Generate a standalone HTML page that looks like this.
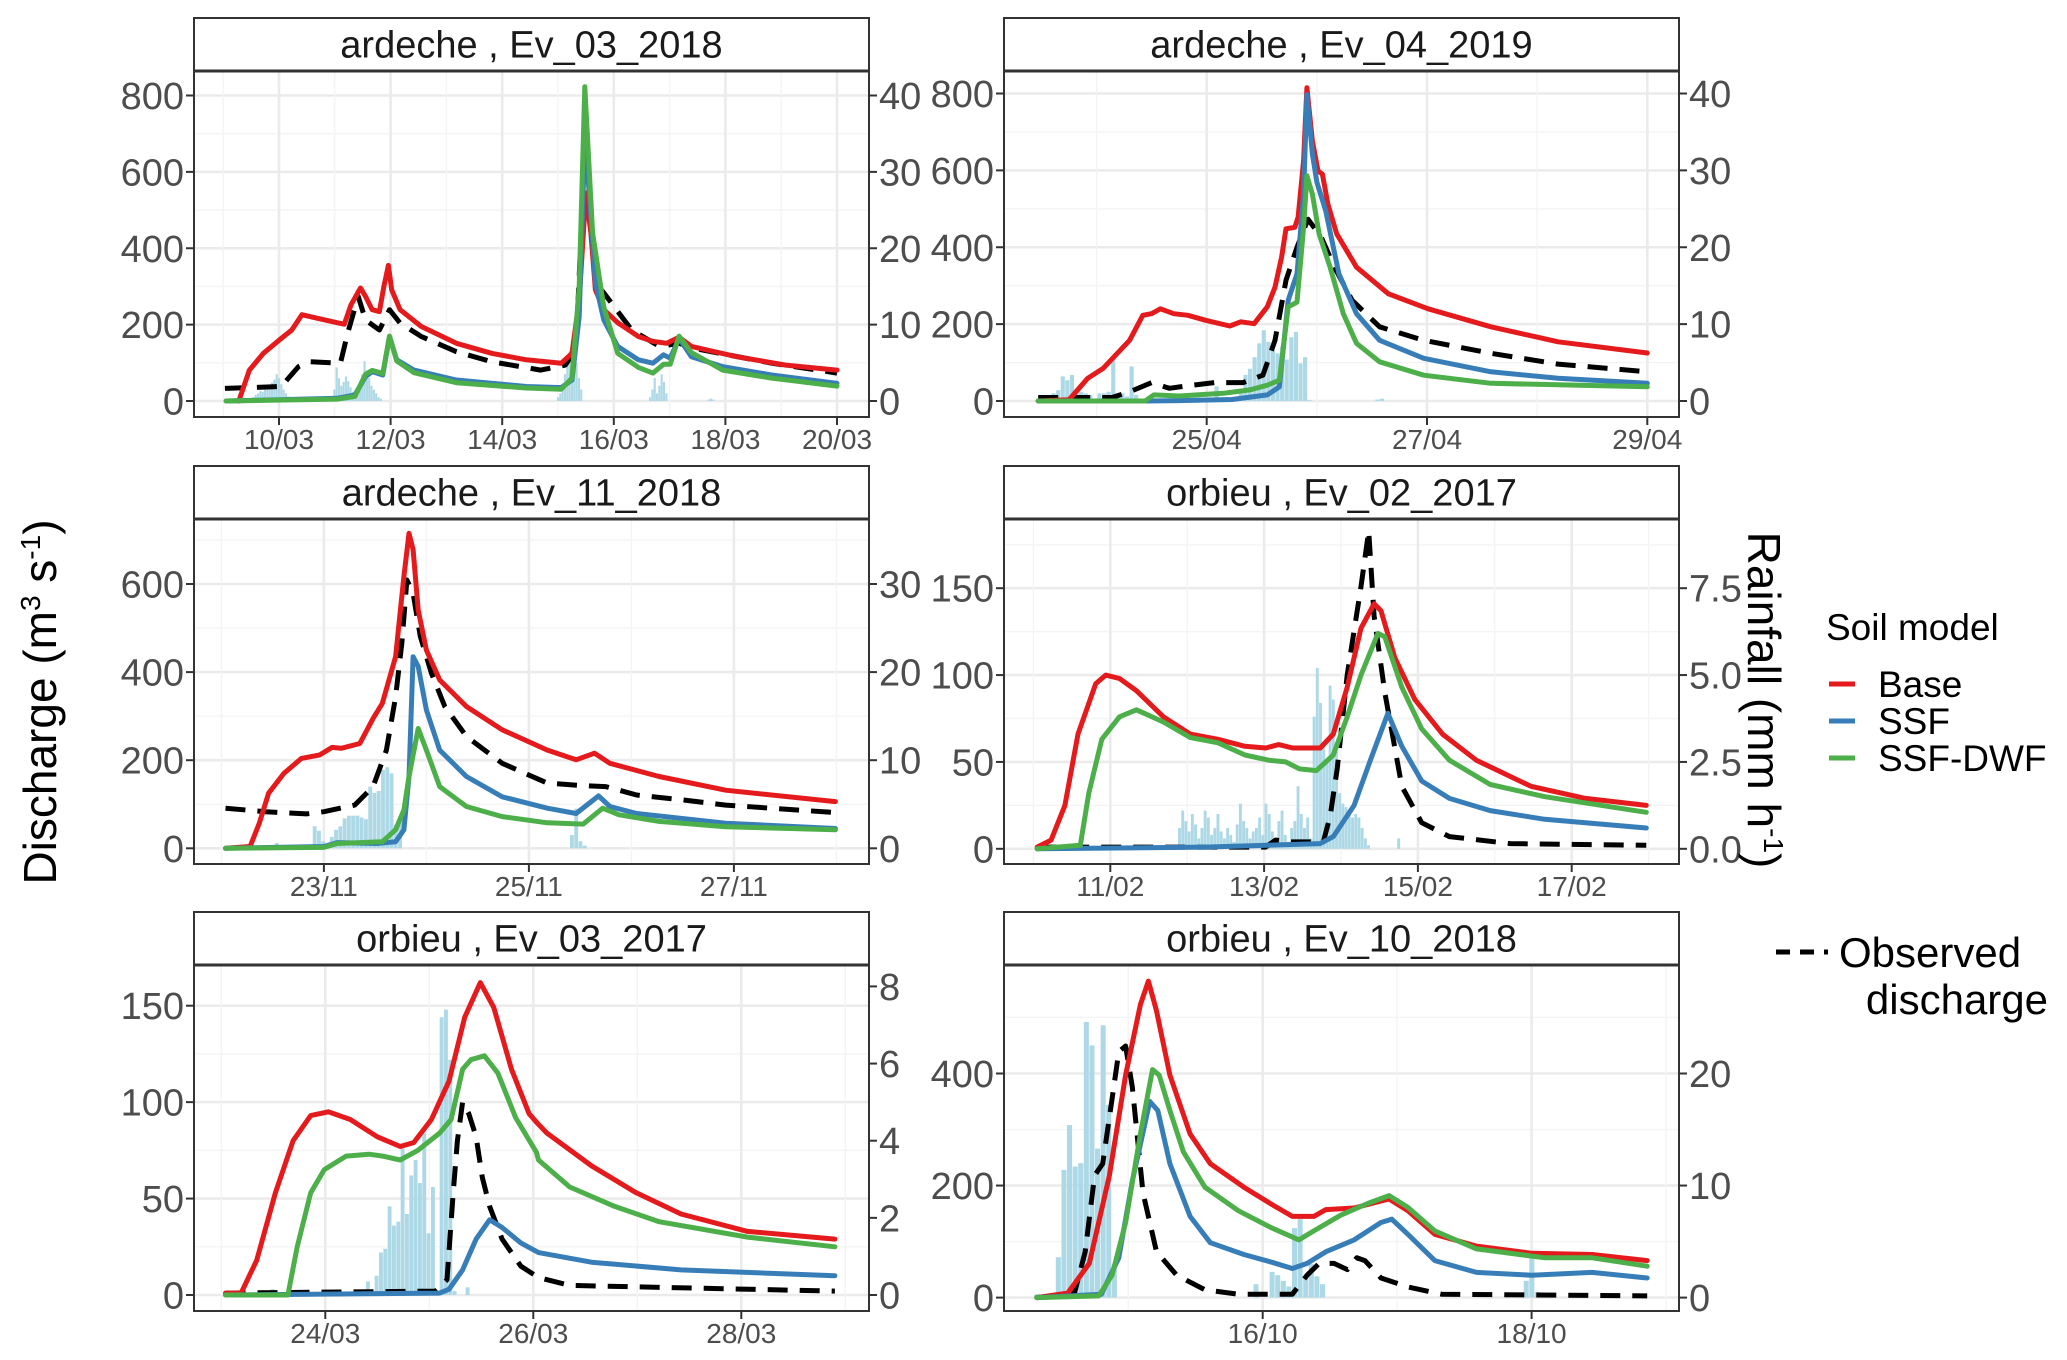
<!DOCTYPE html>
<html><head><meta charset="utf-8"><title>Discharge and rainfall events</title>
<style>
html,body{margin:0;padding:0;background:#fff;}
svg{display:block;font-family:"Liberation Sans",Arial,sans-serif;}
</style></head>
<body>
<svg id="chart" width="2067" height="1360" viewBox="0 0 2067 1360" xmlns="http://www.w3.org/2000/svg">
<rect x="0" y="0" width="2067" height="1360" fill="#fff"/>
<g id="panels"></g>
<text transform="translate(56,702) rotate(-90)" text-anchor="middle" font-size="46" fill="#000">Discharge (m<tspan font-size="28" dy="-16">3</tspan><tspan dy="16"> s</tspan><tspan font-size="28" dy="-16">-1</tspan><tspan dy="16">)</tspan></text>
<text transform="translate(1748,700) rotate(90)" text-anchor="middle" font-size="46" fill="#000">Rainfall (mm h<tspan font-size="28" dy="-16">-1</tspan><tspan dy="16">)</tspan></text>
<g>
<text x="1826" y="640" font-size="37" fill="#000">Soil model</text>
<line x1="1829" y1="684" x2="1855" y2="684" stroke="#e41a1c" stroke-width="5"/>
<text x="1878" y="697" font-size="37" fill="#000">Base</text>
<line x1="1829" y1="721" x2="1855" y2="721" stroke="#377eb8" stroke-width="5"/>
<text x="1878" y="734" font-size="37" fill="#000">SSF</text>
<line x1="1829" y1="758" x2="1855" y2="758" stroke="#4daf4a" stroke-width="5"/>
<text x="1878" y="771" font-size="37" fill="#000">SSF-DWF</text>
<line x1="1776" y1="952" x2="1828" y2="952" stroke="#000" stroke-width="5" stroke-dasharray="14 10"/>
<text x="1839" y="967" font-size="42" fill="#000">Observed</text>
<text x="2048" y="1014" font-size="42" fill="#000" text-anchor="end">discharge</text>
</g>
</svg>
<script>
// ---------- DATA ----------
// Panel 1: ardeche Ev_03_2018 (March)
const p1_title = "ardeche , Ev_03_2018";
const p1_xticks = [10,12,14,16,18,20];
const p1_xlabels = ["10/03","12/03","14/03","16/03","18/03","20/03"];
const p1_yticks = [0,200,400,600,800];
const p1_rticks = [0,10,20,30,40];
const p1_base = [[9.28,0],[9.47,81],[9.72,125],[10.04,164],[10.23,186],[10.41,226],[10.67,217],[11.04,205],[11.17,201],[11.29,252],[11.46,296],[11.55,274],[11.67,239],[11.8,234],[11.88,300],[11.96,355],[12.02,291],[12.17,239],[12.55,195],[13.18,151],[13.81,125],[14.43,108],[15.06,99],[15.25,125],[15.38,265],[15.5,545],[15.59,440],[15.67,291],[15.82,239],[16.07,205],[16.44,169],[16.7,156],[16.95,151],[17.17,167],[17.39,143],[18.2,116],[19.08,94],[20,81]];
const p1_ssf = [[9.05,0],[11.04,7],[11.36,16],[11.55,64],[11.67,77],[11.86,68],[11.98,169],[12.11,108],[12.42,81],[13.18,55],[14.43,38],[15.06,35],[15.25,55],[15.38,221],[15.48,685],[15.57,527],[15.67,309],[15.82,212],[16.07,143],[16.44,108],[16.7,99],[16.89,121],[17.01,112],[17.17,164],[17.39,116],[17.95,90],[18.83,68],[20,46]];
const p1_dwf = [[9.05,0],[11.04,5],[11.36,12],[11.55,70],[11.67,80],[11.86,72],[11.98,170],[12.11,105],[12.42,74],[13.18,48],[14.43,34],[15.06,31],[15.25,60],[15.38,300],[15.48,823],[15.62,440],[15.82,246],[16.07,125],[16.44,88],[16.7,73],[16.89,96],[17.01,96],[17.17,170],[17.39,127],[17.95,81],[18.83,60],[20,39]];
const p1_obs = [[9.03,33],[10.04,38],[10.35,90],[10.54,103],[11.1,99],[11.23,177],[11.42,274],[11.55,212],[11.8,186],[11.98,239],[12.17,204],[12.55,169],[13.18,129],[13.81,103],[14.69,81],[15.13,94],[15.32,134],[15.44,527],[15.54,562],[15.67,309],[15.82,283],[16.32,186],[16.82,143],[17.17,151],[17.57,134],[18.83,99],[20,73]];
const p1_rain = [[9.5,[0.3,0.5,0.8,1.0,1.3,1.2,1.6,2.0,1.8,2.4,2.8,3.5,3.0,2.2,1.5,1.0,0.6,0.3,0.2]],[10.95,[0.5,1.5,4.4,3.0,2.0,2.5,3.2,2.6,1.8,1.2,0.8,1.0,2.0,3.5,5.2,4.0,3.0,2.0,1.5,1.0,0.5,0.3]],[15.0,[0.5,1.0,2.0,3.5,5.0,6.5,8.0,7.0,5.0,3.0,1.5]],[16.65,[0.5,1.5,3.0,1.0,2.0,3.5,2.5,1.0]],[17.7,[0.2,0.3,0.2]]];

// Panel 2: ardeche Ev_04_2019 (April)
const p2_title = "ardeche , Ev_04_2019";
const p2_xticks = [25,27,29];
const p2_xlabels = ["25/04","27/04","29/04"];
const p2_yticks = [0,200,400,600,800];
const p2_rticks = [0,10,20,30,40];
const p2_base = [[23.47,0],[23.75,3],[23.92,59],[24.06,85],[24.3,158],[24.42,223],[24.5,227],[24.58,240],[24.7,227],[24.83,223],[24.99,210],[25.21,195],[25.31,206],[25.43,201],[25.55,245],[25.62,296],[25.68,374],[25.72,448],[25.8,452],[25.83,478],[25.88,625],[25.91,815],[25.96,676],[26.01,599],[26.05,590],[26.1,512],[26.18,435],[26.36,348],[26.65,279],[27.01,240],[27.58,193],[28.19,154],[29,125]];
const p2_ssf = [[23.47,0],[24.46,0],[24.75,1],[25.23,4],[25.55,16],[25.66,37],[25.74,262],[25.82,331],[25.88,538],[25.91,797],[25.96,642],[26.0,569],[26.08,495],[26.2,331],[26.36,227],[26.57,158],[26.97,111],[27.58,76],[28.19,59],[29,46]];
const p2_dwf = [[23.47,0],[24.44,0],[24.52,16],[24.75,13],[25.15,20],[25.39,29],[25.55,41],[25.66,54],[25.74,245],[25.82,257],[25.88,452],[25.91,586],[25.96,538],[26.02,435],[26.12,348],[26.24,227],[26.36,150],[26.57,102],[26.97,67],[27.58,46],[29,37]];
const p2_obs = [[23.47,9],[24.14,9],[24.3,24],[24.5,48],[24.66,33],[24.87,41],[25.07,48],[25.33,48],[25.51,67],[25.62,158],[25.72,314],[25.82,400],[25.92,473],[26.04,426],[26.16,348],[26.32,262],[26.57,193],[26.97,158],[27.58,124],[28.19,96],[29,76]];
const p2_rain = [[23.61,[1.0,1.4,3.2,2.7,3.4,1.0,1.2,1.0,0.8,0.3,1.0,1.0,1.2,5.5,1.0,1.0,0.6,4.5,0.8]],[25.09,[1.9]],[25.31,[1.6,3.4,4.2,5.7,7.5,9.2,7.7,6.6,6.2,7.1,5.4,8.3,9.0,4.9,5.7,0.1]],[26.55,[0.2,0.3]]];

// Panel 3: ardeche Ev_11_2018 (November)
const p3_title = "ardeche , Ev_11_2018";
const p3_xticks = [23,25,27];
const p3_xlabels = ["23/11","25/11","27/11"];
const p3_yticks = [0,200,400,600];
const p3_rticks = [0,10,20,30];
const p3_base = [[22.04,0],[22.28,4],[22.37,57],[22.46,125],[22.61,170],[22.78,204],[22.96,212],[23.08,229],[23.17,227],[23.35,238],[23.48,295],[23.57,329],[23.7,435],[23.78,617],[23.83,715],[23.87,678],[23.92,541],[24.0,450],[24.13,382],[24.39,322],[24.74,269],[25.18,223],[25.46,201],[25.64,216],[25.79,193],[26.27,163],[26.92,132],[27.99,106]];
const p3_ssf = [[22.04,0],[23.0,4],[23.13,13],[23.52,11],[23.7,15],[23.78,42],[23.83,163],[23.87,435],[23.92,413],[24.0,314],[24.13,223],[24.39,163],[24.74,117],[25.18,91],[25.46,79],[25.68,119],[25.79,95],[26.05,79],[26.92,57],[27.99,45]];
const p3_dwf = [[22.04,0],[23.0,2],[23.13,11],[23.57,15],[23.7,42],[23.78,87],[23.83,163],[23.92,272],[24.0,223],[24.13,140],[24.39,95],[24.74,72],[25.18,58],[25.53,55],[25.72,91],[25.88,76],[26.27,61],[26.92,49],[27.99,42]];
const p3_obs = [[22.04,91],[22.43,83],[22.83,78],[23.0,83],[23.3,98],[23.48,140],[23.61,223],[23.7,344],[23.76,465],[23.81,609],[23.87,579],[23.94,481],[24.05,397],[24.18,322],[24.39,254],[24.74,193],[25.18,148],[25.53,142],[25.75,140],[26.05,121],[26.49,110],[26.92,98],[27.99,81]];
const p3_rain = [[22.54,[0.6]],[22.91,[2.5,2.0,0.8,0.3,1.3,2.1,2.5,3.4,3.7,3.7,3.7,3.5,3.3,7.0,6.3,6.5,8.9,9.2,8.5,2.7,3.0]],[25.42,[1.5,4.5,0.8,0.3]]];

// Panel 4: orbieu Ev_02_2017 (February)
const p4_title = "orbieu , Ev_02_2017";
const p4_xticks = [11,13,15,17];
const p4_xlabels = ["11/02","13/02","15/02","17/02"];
const p4_yticks = [0,50,100,150];
const p4_rticks = [0,2.5,5,7.5];
const p4_rlabels = ["0.0","2.5","5.0","7.5"];
const p4_base = [[10.05,1],[10.23,5],[10.41,25],[10.58,66],[10.81,95],[10.94,100],[11.12,98],[11.34,91],[11.69,76],[12.04,66],[12.4,63],[12.75,59],[13.02,58],[13.19,60],[13.37,58],[13.73,58],[13.9,66],[14.08,93],[14.26,127],[14.43,141],[14.52,137],[14.7,110],[14.96,86],[15.32,66],[15.76,51],[16.47,36],[17.18,29],[17.97,25]];
const p4_ssf = [[10.05,0],[12.22,1],[13.73,3],[13.9,7],[14.17,25],[14.39,52],[14.61,78],[14.79,59],[15.05,39],[15.41,29],[15.94,22],[16.65,17],[17.97,12]];
const p4_dwf = [[10.05,0],[10.61,2],[10.72,32],[10.89,63],[11.12,76],[11.34,80],[11.69,73],[12.04,64],[12.4,61],[12.75,54],[13.06,51],[13.28,50],[13.46,46],[13.68,45],[13.9,54],[14.08,76],[14.26,100],[14.48,124],[14.57,122],[14.79,93],[15.05,69],[15.41,51],[15.94,37],[16.65,30],[17.97,21]];
const p4_obs = [[10.05,1],[13.02,1],[13.15,5],[13.37,4],[13.77,4],[13.86,19],[13.95,46],[14.08,100],[14.26,151],[14.36,183],[14.43,134],[14.57,90],[14.79,36],[15.05,15],[15.41,7],[16.2,3],[17.97,2]];
const p4_rain = [[11.9,[0.6,1.1,0.8,0.5,1.0,0.7,0.3,0.6,1.1,0.9,0.4,0.6,1.0,0.5,0.3,0.6,0.4,0.2,0.7,1.3,0.8,0.6,0.3,0.5,0.6,0.9,0.4,1.3,1.0,0.5,0.3,0.8,1.1,0.4,0.2,0.6,0.8,1.8,1.0,0.6,0.9,0.3,3.8,5.2,4.2,3.0,2.5,4.7,4.3,2.8,1.6,1.3,1.2,1.1,0.9,1.0,0.9,0.6,0.3,0.1]],[14.75,[0.3]]];

// Panel 5: orbieu Ev_03_2017 (March)
const p5_title = "orbieu , Ev_03_2017";
const p5_xticks = [24,26,28];
const p5_xlabels = ["24/03","26/03","28/03"];
const p5_yticks = [0,50,100,150];
const p5_rticks = [0,2,4,6,8];
const p5_base = [[23.04,1],[23.19,1],[23.34,18],[23.52,53],[23.69,80],[23.86,93],[24.03,95],[24.24,91],[24.5,82],[24.72,77],[24.85,79],[25.02,91],[25.19,111],[25.34,144],[25.49,162],[25.62,149],[25.79,117],[25.96,94],[26.04,89],[26.13,84],[26.56,67],[26.99,53],[27.42,42],[28.06,33],[28.9,29]];
const p5_ssf = [[23.04,0],[25.1,1],[25.19,3],[25.32,13],[25.45,29],[25.58,39],[25.7,35],[25.88,27],[26.05,22],[26.56,17],[27.42,13],[28.9,10]];
const p5_dwf = [[23.04,0],[23.64,0],[23.73,25],[23.86,53],[23.99,65],[24.2,72],[24.42,73],[24.55,72],[24.72,70],[24.89,75],[25.1,84],[25.21,91],[25.32,117],[25.4,122],[25.53,124],[25.66,115],[25.83,92],[26.03,74],[26.05,70],[26.35,56],[26.78,46],[27.21,38],[28.06,30],[28.9,25]];
const p5_obs = [[23.04,1],[25.06,2],[25.17,8],[25.23,53],[25.27,80],[25.32,100],[25.38,94],[25.45,82],[25.51,61],[25.58,46],[25.7,29],[25.88,15],[26.05,9],[26.35,5],[28.9,2]];
const p5_rain = [[23.41,[0.1,0,0.15]],[24.41,[0.35,0.1,0.5,1.1,1.2,2.3,1.8,1.9,3.8,2.1,3.1,3.5,2.9,4.2,1.6,2.8,0.1,7.2,7.4,6.1,0.1,0,0,0.2]]];

// Panel 6: orbieu Ev_10_2018 (October)
const p6_title = "orbieu , Ev_10_2018";
const p6_xticks = [16,18];
const p6_xlabels = ["16/10","18/10"];
const p6_yticks = [0,200,400];
const p6_rticks = [0,10,20];
const p6_base = [[14.32,0],[14.55,8],[14.71,61],[14.86,218],[14.98,397],[15.09,523],[15.15,565],[15.21,512],[15.31,397],[15.46,292],[15.61,239],[15.86,197],[16.07,166],[16.22,145],[16.38,145],[16.47,157],[16.68,160],[16.94,176],[17.08,155],[17.28,113],[17.59,92],[18.0,79],[18.45,77],[18.86,66]];
const p6_ssf = [[14.32,0],[14.8,6],[14.93,71],[15.03,208],[15.16,350],[15.22,334],[15.31,239],[15.46,145],[15.61,98],[15.86,77],[16.07,63],[16.22,52],[16.33,61],[16.47,82],[16.68,103],[16.88,134],[16.96,140],[17.08,113],[17.28,66],[17.59,45],[18.0,40],[18.45,45],[18.86,35]];
const p6_dwf = [[14.32,0],[14.78,3],[14.88,40],[14.98,134],[15.09,292],[15.18,407],[15.23,397],[15.31,334],[15.41,260],[15.57,197],[15.82,155],[16.07,124],[16.27,103],[16.38,119],[16.58,147],[16.78,168],[16.94,182],[17.08,161],[17.28,119],[17.59,87],[18.1,71],[18.45,71],[18.86,56]];
const p6_obs = [[14.32,0],[14.6,8],[14.68,82],[14.75,218],[14.81,239],[14.88,355],[14.93,439],[14.98,449],[15.03,376],[15.11,187],[15.21,82],[15.36,40],[15.57,14],[15.82,6],[16.22,6],[16.33,40],[16.42,61],[16.53,61],[16.63,50],[16.7,71],[16.76,66],[16.88,35],[17.08,19],[17.33,6],[18.86,3]];
const p6_rain = [[14.32,[0.3]],[14.48,[3.6,11.4,15.4,11.7,12.0,24.6,22.5,13.3,24.3,17.2,3.0]],[15.95,[1.2]],[16.07,[2.3,2.0,1.5,1.0,6.2,7.0,1.9,3.0,1.9,1.2]],[17.96,[1.5,3.5,0.5]]];

const rainScale = 20; // secondary axis: rainfall * 20 = discharge units

// ---------- LAYOUT ----------
const NS = "http://www.w3.org/2000/svg";
const root = document.getElementById('panels');
function mk(tag, attrs, parent){
  const e = document.createElementNS(NS, tag);
  for (const k in attrs) e.setAttribute(k, attrs[k]);
  (parent||root).appendChild(e);
  return e;
}
const C1 = [194, 869], C2 = [1004, 1679];
const R1 = [18, 71, 417], R2 = [466, 519, 864], R3 = [912, 965, 1311];
const panels = [
  {id:'p1', title:p1_title, col:C1, row:R1, d0:10, px0:279, pxd:55.8, y0:401, ys:(401-95.5)/800, xt:p1_xticks, xl:p1_xlabels, yt:p1_yticks, rt:p1_rticks, rl:null, s:[p1_base,p1_ssf,p1_dwf,p1_obs], rain:p1_rain},
  {id:'p2', title:p2_title, col:C2, row:R1, d0:25, px0:1206.7, pxd:110.15, y0:401, ys:(401-93.5)/800, xt:p2_xticks, xl:p2_xlabels, yt:p2_yticks, rt:p2_rticks, rl:null, s:[p2_base,p2_ssf,p2_dwf,p2_obs], rain:p2_rain},
  {id:'p3', title:p3_title, col:C1, row:R2, d0:23, px0:323.9, pxd:102.5, y0:848.3, ys:(848.3-584)/600, xt:p3_xticks, xl:p3_xlabels, yt:p3_yticks, rt:p3_rticks, rl:null, s:[p3_base,p3_ssf,p3_dwf,p3_obs], rain:p3_rain},
  {id:'p4', title:p4_title, col:C2, row:R2, d0:11, px0:1110.3, pxd:76.9, y0:848.8, ys:(848.8-588.2)/150, xt:p4_xticks, xl:p4_xlabels, yt:p4_yticks, rt:p4_rticks, rl:p4_rlabels, s:[p4_base,p4_ssf,p4_dwf,p4_obs], rain:p4_rain},
  {id:'p5', title:p5_title, col:C1, row:R3, d0:24, px0:325.3, pxd:104, y0:1295, ys:(1295-1005.7)/150, xt:p5_xticks, xl:p5_xlabels, yt:p5_yticks, rt:p5_rticks, rl:null, s:[p5_base,p5_ssf,p5_dwf,p5_obs], rain:p5_rain},
  {id:'p6', title:p6_title, col:C2, row:R3, d0:16, px0:1262.7, pxd:134.45, y0:1297.6, ys:(1297.6-1073.5)/400, xt:p6_xticks, xl:p6_xlabels, yt:p6_yticks, rt:p6_rticks, rl:null, s:[p6_base,p6_ssf,p6_dwf,p6_obs], rain:p6_rain}
];
const colors = ['#e41a1c','#377eb8','#4daf4a','#000'];
const snames = ['base','ssf','ssf-dwf','observed'];

panels.forEach(function(P, idx){
  const L = P.col[0], R = P.col[1], ST = P.row[0], T = P.row[1], B = P.row[2];
  const xS = function(d){ return P.px0 + (d - P.d0) * P.pxd; };
  const yS = function(v){ return P.y0 - v * P.ys; };
  const g = mk('g', {});
  
  
  const cp = mk('clipPath', {id:'clip'+idx}, g);
  mk('rect', {x:L, y:T, width:R-L, height:B-T}, cp);
  mk('rect', {x:L, y:T, width:R-L, height:B-T, fill:'#fff'}, g);
  const grid = mk('g', {'clip-path':'url(#clip'+idx+')'}, g);
  
  
  const stepY = P.yt[1] - P.yt[0];
  for (let v = P.yt[0] - stepY/2; v <= P.yt[P.yt.length-1] + stepY; v += stepY/2) {
    const y = yS(v);
    if (y < T || y > B) continue;
    const major = P.yt.some(function(t){ return Math.abs(t - v) < 1e-6; });
    mk('line', {x1:L, x2:R, y1:y, y2:y, stroke: major ? '#ebebeb' : '#f4f4f4', 'stroke-width': major ? 2.6 : 1.4}, grid);
  }
  const stepX = P.xt.length > 1 ? P.xt[1] - P.xt[0] : 2;
  for (let d = P.xt[0] - stepX*2; d <= P.xt[P.xt.length-1] + stepX*2; d += stepX/2) {
    const x = xS(d);
    if (x < L || x > R) continue;
    const major = P.xt.some(function(t){ return Math.abs(t - d) < 1e-6; });
    mk('line', {x1:x, x2:x, y1:T, y2:B, stroke: major ? '#ebebeb' : '#f4f4f4', 'stroke-width': major ? 2.6 : 1.4}, grid);
  }
  const rg = mk('g', {'clip-path':'url(#clip'+idx+')'}, g);
  
  
  const hw = P.pxd / 24;
  P.rain.forEach(function(cl){
    cl[1].forEach(function(r, i){
      if (r <= 0) return;
      const x = xS(cl[0] + i/24);
      const y = yS(r * rainScale);
      const b = mk('rect', {x:x - hw*0.45, y:y, width:Math.max(hw*0.9,1.2), height:yS(0)-y, fill:'#add8e6'}, rg);
      
      
    });
  });
  const lg = mk('g', {'clip-path':'url(#clip'+idx+')'}, g);
  [3,0,1,2].forEach(function(si){
    const ser = P.s[si];
    const d = ser.map(function(p,i){ return (i ? 'L' : 'M') + xS(p[0]).toFixed(1) + ',' + yS(p[1]).toFixed(1); }).join('');
    const attrs = {d:d, fill:'none', stroke:colors[si], 'stroke-width':5, 'stroke-linejoin':'round', 'stroke-linecap': si===3 ? 'butt' : 'round'};
    if (si === 3) attrs['stroke-dasharray'] = '20 12';
    const path = mk('path', attrs, lg);
    
    
  });
  mk('rect', {x:L, y:T, width:R-L, height:B-T, fill:'none', stroke:'#333', 'stroke-width':2}, g);
  const strip = mk('rect', {x:L, y:ST, width:R-L, height:T-ST, fill:'#fff', stroke:'#333', 'stroke-width':2}, g);
  
  
  mk('line', {x1:L, x2:R, y1:T, y2:T, stroke:'#333', 'stroke-width':3}, g);
  const st = mk('text', {x:(L+R)/2, y:(ST+T)/2 + 13, 'text-anchor':'middle', 'font-size':38, fill:'#1a1a1a'}, g);
  st.textContent = P.title;
  
  
  P.yt.forEach(function(v){
    const y = yS(v);
    mk('line', {x1:L-8, x2:L, y1:y, y2:y, stroke:'#333', 'stroke-width':2}, g);
    const t = mk('text', {x:L-10, y:y + 13.5, 'text-anchor':'end', 'font-size':38, fill:'#4d4d4d'}, g);
    t.textContent = String(v);
    
    
  });
  P.rt.forEach(function(v, i){
    const y = yS(v * rainScale);
    mk('line', {x1:R, x2:R+8, y1:y, y2:y, stroke:'#333', 'stroke-width':2}, g);
    const t = mk('text', {x:R+10, y:y + 13.5, 'text-anchor':'start', 'font-size':38, fill:'#4d4d4d'}, g);
    t.textContent = P.rl ? P.rl[i] : String(v);
    
    
  });
  P.xt.forEach(function(d, i){
    const x = xS(d);
    mk('line', {x1:x, x2:x, y1:B, y2:B+8, stroke:'#333', 'stroke-width':2}, g);
    const t = mk('text', {x:x, y:B + 32, 'text-anchor':'middle', 'font-size':28, fill:'#4d4d4d'}, g);
    t.textContent = P.xl[i];
    
    
  });
});
</script>
</body></html>
